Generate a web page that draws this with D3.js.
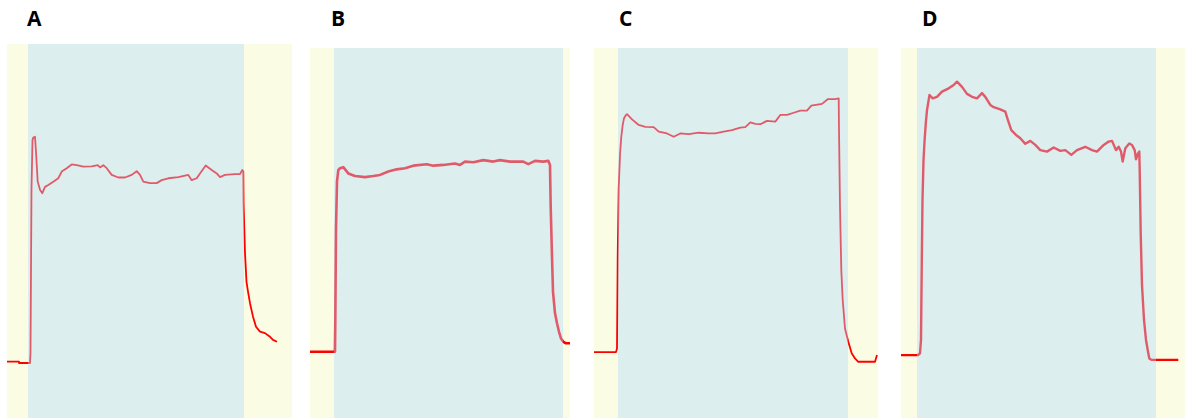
<!DOCTYPE html>
<html>
<head>
<meta charset="utf-8">
<script src="https://cdn.jsdelivr.net/npm/d3@7"></script>
<style>
  body { margin: 0; background: #fff; }
  svg { display: block; }
</style>
</head>
<body>
<script>
const width = 1189;
const height = 418;

// panel labels, recording length and stimulus window (samples)
const labels = ["A", "B", "C", "D"];
const duration = [285, 260, 284, 284];
const stimOn = [21, 24, 24, 16];
const stimOff = [237, 253, 254, 255];

// traces: [sample, signal %]
const traceA = [
  [0, 15.1], [12, 15.1], [12, 14.7], [23, 14.7], [23.5, 17.5], [24.5, 61.5],
  [25.5, 74.3], [26.3, 75.0], [28, 75.2], [29, 71.2], [30.7, 63.2], [33, 61.0],
  [35.3, 60.1], [38, 61.8], [41.3, 62.3], [46.3, 63.2], [51.3, 64.1], [54.7, 65.9],
  [59.7, 66.8], [64.7, 67.8], [69.7, 67.6], [76.3, 67.2], [84.7, 67.3], [90.7, 67.6],
  [93, 67.0], [96.3, 67.6], [99.7, 66.8], [104.7, 65.0], [111.3, 64.3], [118, 64.3],
  [124.7, 65.0], [129.7, 66.0], [133, 65.0], [136.3, 63.2], [143, 62.8], [149.7, 62.8],
  [154.7, 63.6], [161.3, 64.1], [171.3, 64.4], [181.3, 65.0], [184.7, 63.6], [189.7, 64.1],
  [193, 65.4], [198.7, 67.5], [204.7, 66.3], [209.7, 65.4], [213, 64.4], [218, 65.0],
  [228, 65.2], [233, 65.2], [235.3, 66.3], [236.3, 65.9], [236.6, 57.2], [238, 44.1],
  [239.5, 36.4], [241, 33.8], [243, 30.7], [246, 27.1], [249, 24.4], [253, 23.1],
  [258, 22.7], [263, 21.7], [266, 20.9], [270, 20.4]
];

const traceB = [
  [0, 17.9], [25, 17.9], [25.3, 25.9], [26, 51.2], [27, 63.9], [28.3, 67.0],
  [30, 67.5], [33.3, 67.8], [38.3, 66.1], [45, 65.4], [55, 65.1], [63.3, 65.4],
  [70, 65.7], [78.3, 66.6], [86.7, 67.2], [95, 67.5], [103.3, 68.2], [116.7, 68.6],
  [123.3, 68.2], [133.3, 68.4], [145, 68.8], [150, 68.4], [155, 69.3], [163.3, 69.1],
  [173.3, 69.7], [183.3, 69.3], [190, 69.7], [200, 69.3], [213.3, 69.3], [218.3, 68.6],
  [225, 69.5], [233.3, 69.3], [238.3, 69.5], [240, 68.4], [240.7, 57.1], [242, 43.6],
  [243, 34.1], [245, 28.3], [247, 25.6], [249, 23.3], [251, 21.5], [253.3, 20.6],
  [256, 20.2], [260, 20.2]
];

const traceC = [
  [0, 17.8], [22, 17.8], [23, 18.8], [23.7, 43.6], [24.7, 62.1], [26, 71.1],
  [27.3, 76.0], [28.7, 79.2], [30, 81.0], [32, 81.9], [33, 82.1], [38, 80.7],
  [44.7, 79.2], [51.3, 78.7], [59.7, 78.6], [64.7, 77.4], [73, 76.9], [79.7, 76.0],
  [86.3, 76.9], [94.7, 76.7], [104.7, 77.1], [114.7, 76.9], [121.3, 76.9], [129.7, 77.4],
  [138, 77.8], [146.3, 78.5], [151.3, 78.6], [156.3, 79.9], [161.3, 79.5], [166.3, 79.4],
  [173, 80.3], [181.3, 80.1], [186.3, 81.9], [193, 81.9], [199.7, 82.5], [206.3, 83.1],
  [213, 83.1], [217.3, 84.4], [228, 84.9], [234, 86.2], [241.3, 86.2], [244.7, 86.4],
  [245, 77.8], [246, 57.1], [247.3, 40.0], [248.7, 31.9], [251, 24.2], [254.3, 20.6],
  [257.7, 17.5], [261, 16.1], [264.3, 15.2], [281, 15.2], [283, 17.0]
];

const traceD = [
  [0, 17.0], [17, 17.0], [19, 17.5], [20, 21.1], [20.8, 42.7], [21.5, 58.9],
  [22.5, 69.7], [23.5, 74.6], [24.8, 79.7], [26, 83.2], [28.5, 87.3], [31.7, 86.4],
  [36, 86.8], [41, 88.2], [47.7, 89.1], [52.7, 90.0], [56, 90.9], [61, 89.5],
  [66, 87.6], [71, 86.8], [76, 86.4], [81, 87.8], [84.3, 86.8], [89.3, 84.6],
  [92.7, 84.0], [99.3, 83.4], [104.3, 82.8], [106.7, 80.7], [110.3, 77.8], [115, 76.5],
  [119.3, 75.6], [124.3, 74.1], [129.3, 74.9], [134.3, 73.8], [139.3, 72.4], [146, 72.0],
  [152.7, 73.1], [159.3, 72.2], [164.3, 72.4], [170.3, 71.1], [176, 72.4], [184.3, 73.3],
  [191, 72.4], [196, 72.0], [202.7, 73.8], [207.7, 74.7], [211, 74.9], [215, 72.4],
  [217.7, 73.3], [220, 72.0], [221.7, 69.3], [224.3, 72.9], [228.3, 74.2], [231, 73.8],
  [233.7, 72.4], [235, 69.9], [237, 71.5], [238.3, 72.0], [238.7, 67.0], [239.7, 49.9],
  [241, 35.9], [243, 26.5], [245, 21.1], [246.7, 18.4], [248.3, 16.1], [250.7, 15.7],
  [277.3, 15.7]
];

const traces = [traceA, traceB, traceC, traceD];

// where each panel sits on the page
const panels = [
  { left: 7, right: 292, top: 44, labelX: 27, lineWidth: 1.8 },
  { left: 310, right: 570, top: 48, labelX: 331, lineWidth: 2.6 },
  { left: 594, right: 878, top: 48, labelX: 619, lineWidth: 1.8 },
  { left: 901, right: 1185, top: 48, labelX: 922, lineWidth: 2.4 }
];

const svg = d3
  .select("body")
  .append("svg")
  .attr("width", width)
  .attr("height", height);

panels.forEach((p, i) => {
  let xScale = d3.scaleLinear().domain([0, duration[i]]).range([p.left, p.right]);
  let yScale = d3.scaleLinear().domain([0, 100]).range([height, p.top]);

  let g = svg.append("g").attr("class", "panel");

  g.append("rect")
    .attr("x", xScale(0))
    .attr("y", yScale(100))
    .attr("width", xScale(duration[i]) - xScale(0))
    .attr("height", yScale(0) - yScale(100))
    .attr("fill", "#fafde3");

  let line = d3
    .line()
    .x((d) => xScale(d[0]))
    .y((d) => yScale(d[1]));

  g.append("path")
    .datum(traces[i])
    .attr("d", line)
    .attr("fill", "none")
    .attr("stroke", "#ff0000")
    .attr("stroke-width", p.lineWidth)
    .attr("stroke-linejoin", "round");

  // translucent stimulus window laid over the trace
  g.append("rect")
    .attr("x", xScale(stimOn[i]))
    .attr("y", yScale(100))
    .attr("width", xScale(stimOff[i]) - xScale(stimOn[i]))
    .attr("height", yScale(0) - yScale(100))
    .attr("fill", "rgb(180,216,252)")
    .attr("fill-opacity", 0.42);

  svg.append("text")
    .text(labels[i])
    .attr("x", p.labelX)
    .attr("y", 26)
    .style("font-family", "'Open Sans', 'Liberation Sans', sans-serif")
    .style("font-weight", "bold")
    .style("font-size", "21px")
    .attr("fill", "#000");
});
</script>
</body>
</html>
